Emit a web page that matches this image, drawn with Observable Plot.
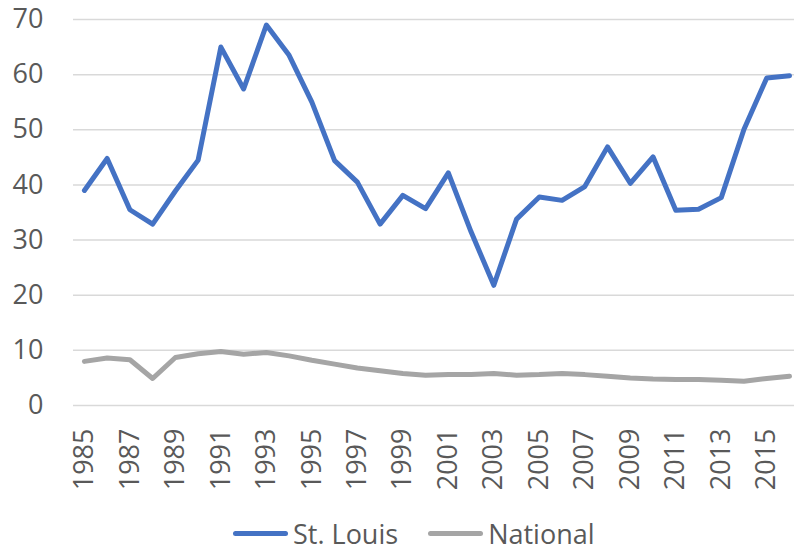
<!DOCTYPE html>
<html>
<head>
<meta charset="utf-8">
<script src="https://cdn.jsdelivr.net/npm/d3@7"></script>
<script src="https://cdn.jsdelivr.net/npm/@observablehq/plot@0.6"></script>
<style>
  html, body { margin: 0; padding: 0; background: #fff; }
  #wrap { position: relative; width: 794px; height: 550px; overflow: hidden; font-family: "Open Sans", sans-serif; }
  #legend { position: absolute; left: 233px; top: 513px; height: 40px; display: flex; align-items: center; font-size: 27px; color: #595959; }
  .sw { width: 55px; height: 5px; border-radius: 3px; margin-right: 5px; }
  .item { display: flex; align-items: center; margin-right: 30px; white-space: nowrap; }
</style>
</head>
<body>
<div id="wrap">
  <div id="chart"></div>
  <div id="legend"></div>
</div>
<script>
const years = [1985,1986,1987,1988,1989,1990,1991,1992,1993,1994,1995,1996,1997,1998,1999,2000,
               2001,2002,2003,2004,2005,2006,2007,2008,2009,2010,2011,2012,2013,2014,2015,2016];
const stLouis = [39.0,44.8,35.5,32.9,38.9,44.5,65.0,57.4,69.0,63.5,55.0,44.4,40.5,32.9,38.1,35.7,
                 42.2,31.5,21.8,33.8,37.8,37.2,39.7,46.9,40.3,45.1,35.4,35.6,37.7,50.1,59.4,59.8];
const national = [8.0,8.6,8.3,4.9,8.7,9.4,9.8,9.3,9.6,9.0,8.2,7.5,6.8,6.3,5.8,5.5,
                  5.6,5.6,5.8,5.5,5.6,5.8,5.6,5.3,5.0,4.8,4.7,4.7,4.6,4.4,4.9,5.3];
const seriesNames = ["St. Louis", "National"];
const seriesColors = ["#4472C4", "#A5A5A5"];
const yTicks = [0,10,20,30,40,50,60,70];
const xTicks = [1985,1987,1989,1991,1993,1995,1997,1999,2001,2003,2005,2007,2009,2011,2013,2015];

const rows = [];
years.forEach((yr, i) => {
  rows.push({year: yr, value: stLouis[i], series: seriesNames[0]});
});
years.forEach((yr, i) => {
  rows.push({year: yr, value: national[i], series: seriesNames[1]});
});

const chart = Plot.plot({
  width: 794,
  height: 510,
  marginLeft: 73,
  marginRight: 0,
  marginTop: 19,
  marginBottom: 105,
  style: {fontFamily: "'Open Sans', sans-serif", fontSize: "27px", color: "#595959", background: "#fff"},
  x: {type: "linear", domain: [1984.52, 2016.22]},
  y: {domain: [0, 70]},
  color: {domain: seriesNames, range: seriesColors},
  marks: [
    Plot.gridY(yTicks, {stroke: "#d9d9d9", strokeOpacity: 1, strokeWidth: 1.5}),
    Plot.axisY(yTicks, {tickSize: 0, tickPadding: 30, fontSize: 27, label: null}),
    Plot.axisX(xTicks, {tickSize: 0, tickRotate: -90, tickPadding: 23, fontSize: 27, label: null, tickFormat: d => String(d)}),
    Plot.line(rows, {x: "year", y: "value", z: "series", stroke: "series", strokeWidth: 5, strokeLinejoin: "round", strokeLinecap: "round"})
  ]
});
document.getElementById("chart").appendChild(chart);

const legend = document.getElementById("legend");
seriesNames.forEach((name, i) => {
  const item = document.createElement("div");
  item.className = "item";
  const sw = document.createElement("div");
  sw.className = "sw";
  sw.style.background = seriesColors[i];
  const t = document.createElement("span");
  t.textContent = name;
  item.appendChild(sw);
  item.appendChild(t);
  legend.appendChild(item);
});
</script>
</body>
</html>
